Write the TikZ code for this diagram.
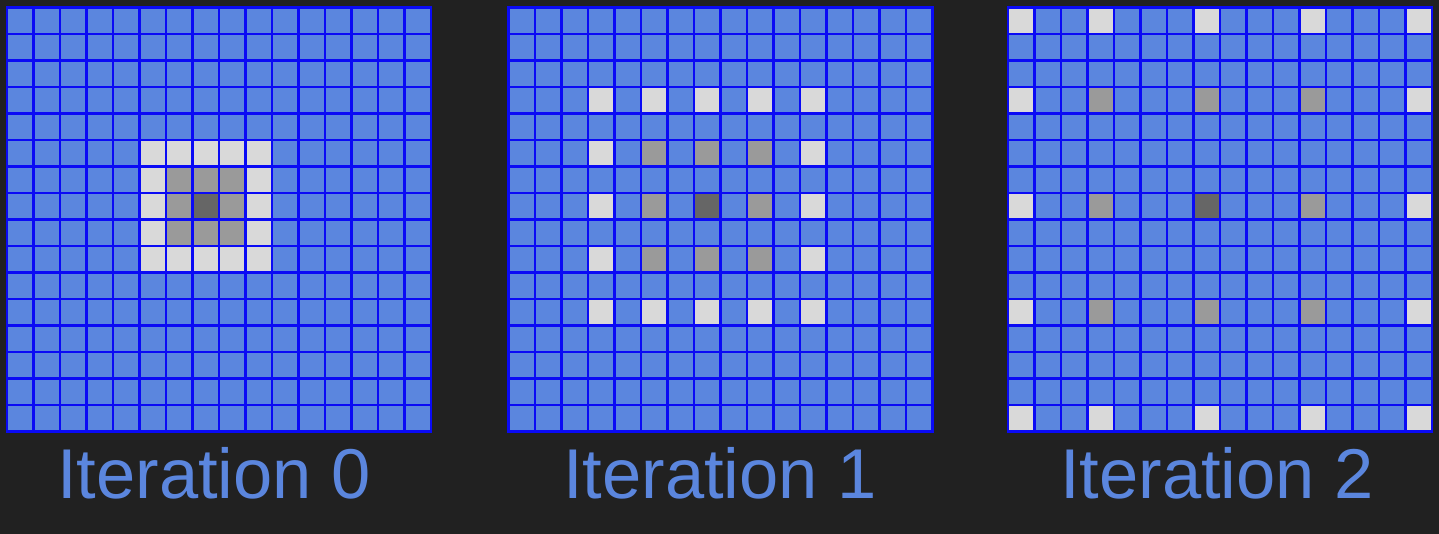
\documentclass[tikz,border=0pt]{standalone}
\usepackage{fontspec}
\setmainfont{Liberation Sans}
\definecolor{bg}{HTML}{212121}
\definecolor{cellblue}{HTML}{5B86DE}
\definecolor{gridblue}{HTML}{0A0AF5}
\definecolor{lightc}{HTML}{D9D9D9}
\definecolor{grayc}{HTML}{9A9A9A}
\definecolor{darkc}{HTML}{666666}
\newcommand\mycell[4]{\fill[#4] ({#1+#2*26.5},{7.5+#3*26.5}) rectangle ++(26.5,26.5);}
\newcommand\mygrid[1]{%
  \fill[cellblue] (#1,7.5) rectangle ++(424,424);}
\newcommand\mylines[1]{%
  \foreach \i in {0,...,16}{%
    \draw[gl] ({#1+\i*26.5},7.5) -- ({#1+\i*26.5},431.5);
    \draw[gl] (#1,{7.5+\i*26.5}) -- ({#1+424},{7.5+\i*26.5});
  }}
\begin{document}
\begin{tikzpicture}[x=1pt,y=-1pt,
  gl/.style={draw=gridblue,line width=2.7pt,line cap=rect},
  lbl/.style={text=cellblue,font=\fontsize{70.5}{78}\selectfont,anchor=base,inner sep=0pt}]
\fill[bg] (0,0) rectangle (1439,534);
\useasboundingbox (0,0) rectangle (1439,534);
% Grid 0
\mygrid{7}
\foreach \c in {5,...,9}{\mycell{7}{\c}{5}{lightc}\mycell{7}{\c}{9}{lightc}}
\foreach \r in {6,7,8}{\mycell{7}{5}{\r}{lightc}\mycell{7}{9}{\r}{lightc}}
\foreach \c in {6,7,8}{\foreach \r in {6,7,8}{\mycell{7}{\c}{\r}{grayc}}}
\mycell{7}{7}{7}{darkc}
\mylines{7}
% Grid 1
\mygrid{508.5}
\foreach \c in {3,5,7,9,11}{\mycell{508.5}{\c}{3}{lightc}\mycell{508.5}{\c}{11}{lightc}}
\foreach \r in {5,7,9}{\mycell{508.5}{3}{\r}{lightc}\mycell{508.5}{11}{\r}{lightc}}
\foreach \c in {5,7,9}{\foreach \r in {5,7,9}{\mycell{508.5}{\c}{\r}{grayc}}}
\mycell{508.5}{7}{7}{darkc}
\mylines{508.5}
% Grid 2
\mygrid{1008}
\foreach \c in {0,3,7,11,15}{\mycell{1008}{\c}{0}{lightc}\mycell{1008}{\c}{15}{lightc}}
\foreach \r in {3,7,11}{\mycell{1008}{0}{\r}{lightc}\mycell{1008}{15}{\r}{lightc}}
\foreach \c in {3,7,11}{\foreach \r in {3,7,11}{\mycell{1008}{\c}{\r}{grayc}}}
\mycell{1008}{7}{7}{darkc}
\mylines{1008}
% Labels
\node[lbl] (t0) at (214,498) {Iteration 0};
\node[lbl] (t1) at (720,498) {Iteration 1};
\node[lbl] (t2) at (1217,498) {Iteration 2};
\end{tikzpicture}
\end{document}
